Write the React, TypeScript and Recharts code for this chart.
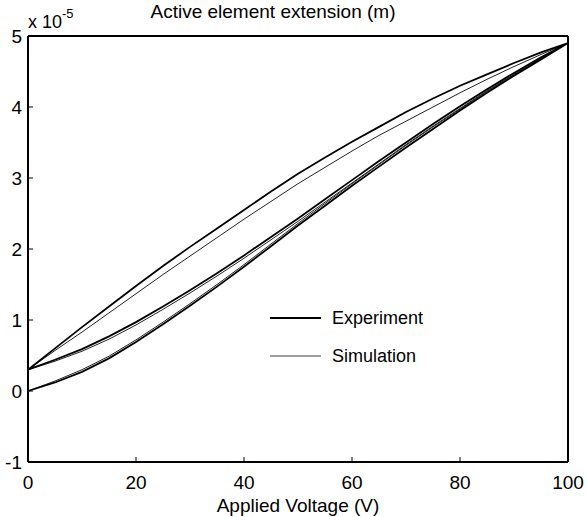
import React from "react"
import { LineChart, Line, XAxis, YAxis, Legend } from "recharts"

// applied voltage steps (V)
const voltage = [0, 5, 10, 15, 20, 25, 30, 35, 40, 45, 50, 55, 60, 65, 70, 75, 80, 85, 90, 95, 100]

// extension values, x 1e-5 m, listed at the voltages above
const expRiseFirst = [0, 0.12, 0.27, 0.46, 0.69, 0.94, 1.2, 1.47, 1.75, 2.04, 2.33, 2.61, 2.89, 3.16, 3.43, 3.69, 3.95, 4.2, 4.44, 4.67, 4.9]
const expFall = [0.3, 0.6, 0.9, 1.19, 1.48, 1.76, 2.03, 2.29, 2.55, 2.81, 3.06, 3.29, 3.51, 3.72, 3.93, 4.12, 4.3, 4.46, 4.62, 4.77, 4.9]
const expRiseSecond = [0.3, 0.44, 0.59, 0.77, 0.97, 1.19, 1.42, 1.66, 1.91, 2.17, 2.43, 2.7, 2.97, 3.24, 3.5, 3.76, 4.01, 4.25, 4.48, 4.7, 4.9]

const simRiseFirst = [0, 0.14, 0.3, 0.49, 0.72, 0.97, 1.23, 1.5, 1.78, 2.07, 2.36, 2.64, 2.92, 3.19, 3.46, 3.72, 3.97, 4.22, 4.45, 4.68, 4.9]
const simFall = [0.3, 0.57, 0.83, 1.1, 1.37, 1.64, 1.9, 2.16, 2.42, 2.67, 2.92, 3.15, 3.38, 3.6, 3.8, 4.0, 4.2, 4.39, 4.57, 4.74, 4.9]
const simRiseSecond = [0.3, 0.42, 0.56, 0.73, 0.93, 1.15, 1.38, 1.62, 1.87, 2.13, 2.39, 2.66, 2.93, 3.2, 3.47, 3.73, 3.98, 4.23, 4.46, 4.69, 4.9]

const xTicks = [0, 20, 40, 60, 80, 100]
const yTicks = [-1, 0, 1, 2, 3, 4, 5]

const font = "'Liberation Sans', Arial, Helvetica, sans-serif"

// rise -> fall -> rise, so the loop is drawn in the order it was measured
const buildLoop = (rise1: number[], fall: number[], rise2: number[]) => [
  ...voltage.map((v, i) => ({ v, y: rise1[i] })),
  ...voltage.map((v, i) => ({ v, y: fall[i] })).reverse().slice(1),
  ...voltage.map((v, i) => ({ v, y: rise2[i] })).slice(1),
]

const expData = buildLoop(expRiseFirst, expFall, expRiseSecond)
const simData = buildLoop(simRiseFirst, simFall, simRiseSecond)

const BottomTick = ({ x, y, payload }: any) => (
  <g>
    <line x1={x} y1={y} x2={x} y2={y - 5} stroke="#000" strokeWidth={1} />
    <text x={x} y={y + 27} textAnchor="middle" fontSize={19} fontFamily={font} fill="#000">
      {payload.value}
    </text>
  </g>
)

const TopTick = ({ x, y }: any) => (
  <line x1={x} y1={y} x2={x} y2={y + 5} stroke="#000" strokeWidth={1} />
)

const LeftTick = ({ x, y, payload }: any) => (
  <g>
    <line x1={x} y1={y} x2={x + 5} y2={y} stroke="#000" strokeWidth={1} />
    <text x={x - 6} y={y + 7} textAnchor="end" fontSize={19} fontFamily={font} fill="#000">
      {payload.value}
    </text>
  </g>
)

const RightTick = ({ x, y }: any) => (
  <line x1={x} y1={y} x2={x - 5} y2={y} stroke="#000" strokeWidth={1} />
)

const LegendBox = () => (
  <div style={{ fontFamily: font, fontSize: 18, color: "#000" }}>
    {[
      { name: "Experiment", color: "#000", width: 2 },
      { name: "Simulation", color: "#808080", width: 1.5 },
    ].map((item) => (
      <div key={item.name} style={{ display: "flex", alignItems: "center", height: 38 }}>
        <svg width={63} height={10}>
          <line x1={1} y1={5} x2={52} y2={5} stroke={item.color} strokeWidth={item.width} />
        </svg>
        <span>{item.name}</span>
      </div>
    ))}
  </div>
)

export default function App() {
  return (
    <div style={{ position: "absolute", left: 0, top: 0, background: "#fff" }}>
      <LineChart width={587} height={517} margin={{ top: 35, right: 18, left: 0, bottom: 0 }}>
        <XAxis
          xAxisId="b"
          dataKey="v"
          type="number"
          domain={[0, 100]}
          ticks={xTicks}
          height={55}
          tickSize={0}
          tickMargin={0}
          tickLine={false}
          axisLine={{ stroke: "#000", strokeWidth: 2 }}
          tick={<BottomTick />}
          interval={0}
          label={() => (
            <text x={298} y={512} textAnchor="middle" fontSize={19} fontFamily={font} fill="#000">
              Applied Voltage (V)
            </text>
          )}
        />
        <XAxis
          xAxisId="t"
          orientation="top"
          dataKey="v"
          type="number"
          domain={[0, 100]}
          ticks={xTicks}
          height={1}
          tickSize={0}
          tickMargin={0}
          tickLine={false}
          axisLine={{ stroke: "#000", strokeWidth: 2 }}
          tick={<TopTick />}
          interval={0}
          label={() => (
            <text x={273} y={18} textAnchor="middle" fontSize={19} fontFamily={font} fill="#000">
              Active element extension (m)
            </text>
          )}
        />
        <YAxis
          yAxisId="l"
          type="number"
          domain={[-1, 5]}
          ticks={yTicks}
          width={28}
          tickSize={0}
          tickMargin={0}
          tickLine={false}
          axisLine={{ stroke: "#000", strokeWidth: 2 }}
          tick={<LeftTick />}
          interval={0}
          label={() => (
            <text x={28} y={28} fontSize={18} fontFamily={font} fill="#000">
              x 10<tspan dy={-10} fontSize={13}>-5</tspan>
            </text>
          )}
        />
        <YAxis
          yAxisId="r"
          orientation="right"
          type="number"
          domain={[-1, 5]}
          ticks={yTicks}
          width={1}
          tickSize={0}
          tickMargin={0}
          tickLine={false}
          axisLine={{ stroke: "#000", strokeWidth: 2 }}
          tick={<RightTick />}
          interval={0}
        />
        <Legend
          layout="horizontal"
          verticalAlign="middle"
          align="center"
          content={<LegendBox />}
          wrapperStyle={{ position: "absolute", left: 269, top: 299, width: 200, height: 76 }}
        />
        <Line
          xAxisId="b"
          yAxisId="l"
          data={simData}
          dataKey="y"
          name="Simulation"
          type="linear"
          stroke="#222"
          strokeWidth={1}
          dot={false}
          isAnimationActive={false}
        />
        <Line
          xAxisId="b"
          yAxisId="l"
          data={expData}
          dataKey="y"
          name="Experiment"
          type="linear"
          stroke="#000"
          strokeWidth={1.8}
          dot={false}
          isAnimationActive={false}
        />
      </LineChart>
    </div>
  )
}
